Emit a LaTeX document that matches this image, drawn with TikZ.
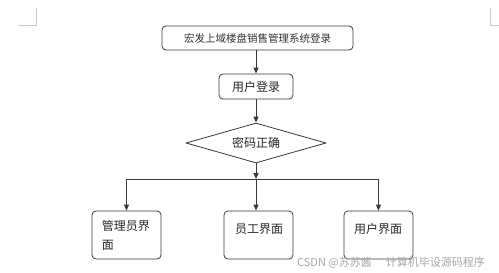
\documentclass[tikz,border=0pt]{standalone}
\usepackage{fontspec}
\setmainfont{Noto Sans CJK SC}
\usetikzlibrary{shapes.geometric,arrows.meta,calc}
\definecolor{ln}{HTML}{3A3A3A}
\definecolor{wm}{HTML}{A8A8A8}
\definecolor{mk}{HTML}{C8C8C8}
\begin{document}
\begin{tikzpicture}[x=1pt,y=-1pt,
  box/.style={draw=ln,line width=0.8pt,rounded corners=4pt,inner sep=0pt},
  arr/.style={draw=ln,line width=0.8pt,-{Triangle[length=6pt,width=5pt]}},
  plain/.style={draw=ln,line width=0.8pt},
  lbl/.style={font=\fontsize{12}{19}\selectfont,text=black!85,inner sep=0pt}]
\useasboundingbox (0,0) rectangle (499,273);
\fill[white] (0,0) rectangle (499,273);
% corner marks
\draw[mk,line width=0.6pt] (36,8) -- (36,25) -- (18,25);
\draw[mk,line width=0.6pt] (490,8) -- (490,25) -- (499,25);
% nodes
\node[box,minimum width=191pt,minimum height=24pt,font=\fontsize{10.5}{12}\selectfont,text=black!80] (title) at (257.5,38) {宏发上域楼盘销售管理系统登录};
\node[box,minimum width=74pt,minimum height=25pt,lbl] (login) at (256,86.5) {用户登录};
\node[draw=ln,line width=0.8pt,diamond,aspect=3.5,minimum width=140pt,minimum height=40pt,inner sep=0pt,lbl] (dia) at (256,143) {密码正确};
\coordinate (j) at (256,179);
\node[box,minimum width=69pt,minimum height=48pt] (admin) at (126.5,235) {};
\node[box,minimum width=69pt,minimum height=48pt] (emp) at (258.5,235) {};
\node[box,minimum width=69pt,minimum height=48pt] (user) at (378.5,235) {};
\node[lbl,anchor=north west,align=left] (admintxt) at ($(admin.north west)+(10pt,-10pt)$) {管理员界\\面};
\node[lbl] (emptxt) at (259,229) {员工界面};
\node[lbl] (usertxt) at (378,229) {用户界面};
% connectors
\draw[arr] (title.south -| login) -- (login.north);
\draw[arr] (login.south -| dia) -- (dia.north);
\draw[arr] (dia.south) -- (j);
\draw[plain] (admin.north |- j) -- (user.north |- j);
\draw[arr] (j) -| (admin.north);
\draw[arr] (j) -- (emp.north -| j);
\draw[arr] (j) -| (user.north);
% watermark
\node[anchor=west,text=wm,font=\fontsize{11}{12}\selectfont,inner sep=0pt] (wmk) at (297,263) {CSDN @苏苏酱\hspace{14pt}计算机毕设源码程序};
\end{tikzpicture}
\end{document}
